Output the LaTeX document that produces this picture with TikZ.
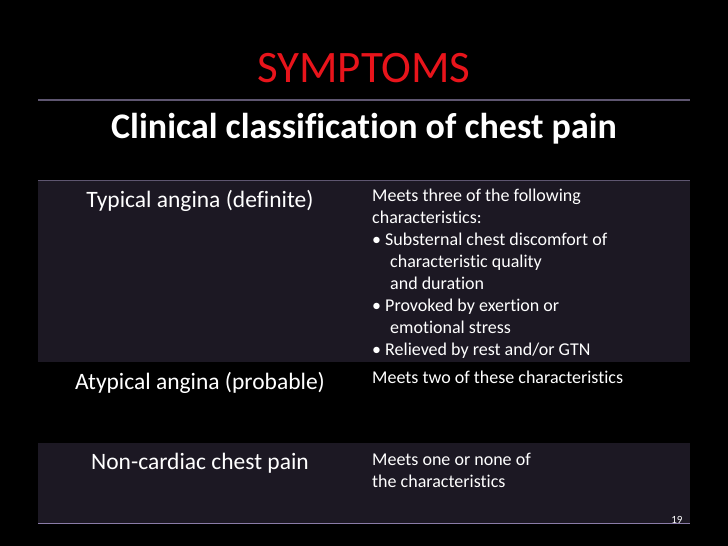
\documentclass[tikz,border=0pt]{standalone}
\usepackage{fontspec}
\setmainfont[Ligatures={NoCommon}]{Carlito}
\definecolor{rowbg}{HTML}{1C1823}
\definecolor{lineC}{HTML}{5E5670}
\definecolor{botline}{HTML}{8A7CA8}
\definecolor{titlered}{HTML}{E8141B}
\tikzset{lefttxt/.style={text=white,font=\fontsize{23.5}{27}\selectfont,anchor=center,inner sep=0},
righttxt/.style={text=white,font=\fontsize{18}{22}\selectfont,anchor=north west,inner sep=0,align=left}}
\begin{document}
\begin{tikzpicture}[x=1pt,y=-1pt]
\fill[black] (0,0) rectangle (728,546);
\useasboundingbox (0,0) rectangle (728,546);
\fill[rowbg] (38,180) rectangle (690,362);
\fill[rowbg] (38,443) rectangle (690,523);
\draw[lineC,line width=1.2pt] (38,100) -- (690,100);
\draw[lineC,line width=1pt] (38,180) -- (690,180);
\draw[botline,line width=1pt] (38,523) -- (690,523);
\node (t) [text=titlered,font=\fontsize{45}{48}\selectfont] at (364,68) {SYMPTOMS};
\node (s) [text=white,font=\bfseries\fontsize{36}{40}\selectfont] at (364,129) {Clinical classification of chest pain};
\node (a1) [lefttxt] at (200,201) {Typical angina (definite)};
\node (a2) [lefttxt] at (200,383) {Atypical angina (probable)};
\node (a3) [lefttxt] at (200,463) {Non-cardiac chest pain};
\node (b1) [righttxt] at (372,189) {Meets three of the following\\characteristics:\\• Substernal chest discomfort of\\\hspace*{1.0em}characteristic quality\\\hspace*{1.0em}and duration\\• Provoked by exertion or\\\hspace*{1.0em}emotional stress\\• Relieved by rest and/or GTN};
\node (b2) [righttxt] at (372,371) {Meets two of these characteristics};
\node (b3) [righttxt] at (372,453) {Meets one or none of\\the characteristics};
\node (n) [text=white,font=\fontsize{11}{12}\selectfont,anchor=east] at (686,520) {19};
\end{tikzpicture}
\end{document}
